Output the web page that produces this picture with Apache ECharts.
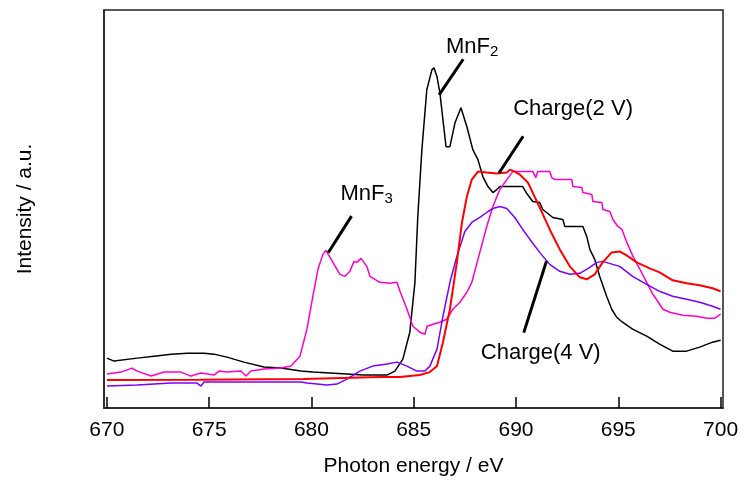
<!DOCTYPE html>
<html>
<head>
<meta charset="utf-8">
<script src="https://cdn.jsdelivr.net/npm/echarts@6/dist/echarts.min.js"></script>
<style>
  html, body { margin: 0; padding: 0; background: #fff; }
  #chart { width: 742px; height: 482px; }
</style>
</head>
<body>
<div id="chart"></div>
<script>
  // photon energy (eV) / intensity (a.u.)
  var mnf2E = [670.0, 670.35, 671.48, 672.31, 673.14, 673.92, 674.75, 675.24, 675.87, 676.7, 677.68, 678.51, 679.49, 680.07, 681.73, 682.52, 683.69, 684.08, 684.47, 684.81, 685.06, 685.2, 685.4, 685.64, 685.89, 685.99, 686.14, 686.28, 686.58, 686.77, 687.02, 687.31, 687.6, 687.89, 688.14, 688.38, 688.63, 688.87, 689.06, 689.21, 690.33, 690.53, 690.82, 691.16, 691.31, 691.8, 692.29, 692.39, 693.27, 693.46, 693.61, 693.85, 694.09, 694.43, 694.68, 694.92, 695.21, 695.7, 696.39, 697.02, 697.66, 698.34, 698.98, 699.61, 700.0]
  var mnf2I = [12.5, 11.75, 12.5, 13, 13.5, 13.75, 13.75, 13.5, 12.75, 11.5, 10.25, 10, 9.25, 9, 8.5, 8.25, 8.25, 9.25, 12.25, 19, 31.5, 48, 64.75, 79.75, 84.75, 85.25, 83, 79, 65.5, 65.5, 71.5, 75.25, 70.5, 64.75, 62.25, 58, 55.5, 54, 54.75, 55.5, 55.5, 53.75, 51.75, 51.5, 49.75, 47.75, 47.25, 45.5, 45.5, 43, 39.75, 37.25, 33, 28, 24.75, 22.75, 21.5, 19.75, 18, 16, 14.25, 14.25, 15.25, 16.5, 17]

  var mnf3E = [670.01, 670.69, 671.23, 671.48, 672.16, 672.79, 673.62, 674.11, 674.6, 675.24, 675.48, 675.87, 676.56, 676.8, 677.04, 677.68, 678.51, 679.0, 679.44, 679.78, 680.07, 680.32, 680.56, 680.71, 681.05, 681.39, 681.64, 681.88, 682.08, 682.22, 682.42, 682.71, 682.86, 683.35, 683.84, 684.18, 684.33, 684.67, 684.96, 685.3, 685.55, 685.65, 685.94, 686.28, 686.62, 686.91, 687.26, 687.6, 687.84, 688.14, 688.57, 688.87, 689.21, 689.55, 689.84, 690.82, 690.97, 691.06, 691.65, 691.75, 691.9, 692.73, 692.78, 693.22, 693.27, 693.71, 693.76, 694.2, 694.25, 694.59, 694.74, 694.98, 695.18, 695.42, 695.72, 696.06, 696.39, 696.69, 696.93, 697.18, 697.52, 698.15, 698.84, 699.33, 699.72, 700.0]
  var mnf3I = [8.5, 9, 10, 9.25, 8, 9, 9, 8, 8.75, 8.25, 9.25, 9, 9.25, 8, 9.25, 9.75, 10, 10.5, 13, 19.75, 28, 34.75, 38.5, 39.5, 36.5, 33.5, 33, 34.25, 36.75, 36.5, 37.5, 35.5, 33, 31.5, 31.25, 31.5, 29.25, 24.75, 20.5, 19, 18.5, 20.5, 21, 21.5, 22.25, 24.75, 26.5, 29, 31.5, 37.25, 45.5, 50.5, 54.75, 57.25, 59.25, 59.25, 57.75, 59.25, 59.25, 57.75, 57.25, 57.25, 55.5, 55.25, 54, 53.5, 51.75, 51.5, 49.75, 49.25, 47.25, 45.5, 44.75, 41.5, 38, 34.75, 31.5, 28.5, 26.75, 24.75, 24, 23.25, 23, 22.5, 22.5, 23.5]

  var charge4E = [670.01, 671.48, 673.14, 674.41, 674.6, 674.75, 676.36, 678.02, 679.49, 679.78, 680.76, 681.25, 681.73, 682.37, 683.0, 683.69, 684.18, 684.67, 685.15, 685.55, 685.79, 686.14, 686.43, 686.77, 687.11, 687.5, 687.84, 688.23, 688.57, 688.87, 689.21, 689.55, 689.94, 690.33, 690.68, 691.16, 691.65, 692.14, 692.63, 693.12, 693.61, 693.95, 694.24, 694.73, 695.07, 695.7, 696.39, 697.02, 697.66, 698.34, 698.98, 699.61, 700.0]
  var charge4I = [5.5, 5.75, 6.25, 6.25, 5.5, 6.5, 6.5, 6.5, 6.5, 6.25, 5.75, 6, 7.25, 9.25, 10.5, 11, 11.5, 10.5, 9.25, 9.25, 10.5, 14.75, 23, 31.5, 38, 44.25, 46.5, 47.75, 49, 50, 50.5, 50, 47.75, 44.75, 42.25, 39, 36, 34.25, 33.5, 33.75, 35.25, 36.5, 36.75, 36, 35.5, 33, 31, 29.25, 28, 27.25, 26.5, 25.5, 24.75]

  var charge2E = [670.0, 674.55, 679.63, 683.35, 684.33, 685.3, 685.79, 686.14, 686.43, 686.77, 687.11, 687.36, 687.6, 687.84, 688.14, 688.57, 689.06, 689.55, 689.7, 689.94, 690.19, 690.58, 690.68, 691.16, 691.65, 692.14, 692.63, 693.12, 693.46, 693.85, 694.24, 694.68, 695.07, 695.41, 695.9, 696.54, 697.02, 697.66, 698.34, 698.98, 699.61, 700.0]
  var charge2I = [7, 7.1, 7.25, 7.75, 7.75, 8.25, 9, 10.5, 16.5, 24.75, 36.5, 46.5, 53, 57.25, 59.25, 59, 58.75, 59, 59.75, 59.25, 58.5, 56.5, 55.5, 50.25, 44.75, 39.75, 35.5, 32.75, 32.25, 33.5, 36.5, 39, 39.25, 38.25, 36.5, 35, 34, 32, 31.25, 30.75, 30, 29.25]

  var xTicks = [670, 675, 680, 685, 690, 695, 700]

  // annotation texts and their anchors (data coords)
  var noteText = ['MnF{s|2}', 'Charge(2 V)', 'MnF{s|3}', 'Charge(4 V)']
  var noteAt = [[687.86, 90.5], [692.79, 75], [682.7, 53.6], [691.21, 13.9]]
  var leaderFrom = [[687.42, 87.4], [690.35, 68.1], [681.96, 48.1], [690.38, 18.9]]
  var leaderTo = [[686.24, 78.5], [689.17, 58.9], [680.82, 38.9], [691.49, 36.8]]

  var pairs = function (xs, ys) {
    var ret = []
    for (var i = 0; i < xs.length; i++) ret.push([xs[i], ys[i]])
    return ret
  }

  var font = 'Liberation Sans, Arial, sans-serif'
  var myChart = echarts.init(document.getElementById('chart'), null, { renderer: 'canvas' })

  var lineSeries = function (name, xs, ys, color, width) {
    return {
      name: name,
      type: 'line',
      symbol: 'none',
      animation: false,
      lineStyle: { color: color, width: width },
      data: pairs(xs, ys)
    }
  }

  var leaders = []
  var labels = []
  for (var i = 0; i < noteText.length; i++) {
    leaders.push([{ coord: leaderFrom[i] }, { coord: leaderTo[i] }])
    labels.push({ coord: noteAt[i], value: 0, label: { formatter: noteText[i] } })
  }

  var option = {
    animation: false,
    grid: {
      left: 104, right: 19, top: 10, bottom: 73,
      show: true, borderColor: '#222', borderWidth: 1.5
    },
    xAxis: {
      type: 'value',
      min: 669.86,
      max: 700.12,
      name: 'Photon energy / eV',
      nameLocation: 'middle',
      nameGap: 48,
      nameTextStyle: { fontFamily: font, fontSize: 21, color: '#000' },
      axisLine: { show: true, lineStyle: { color: '#222', width: 1.5 } },
      axisTick: { show: true, inside: true, length: 11, customValues: xTicks, lineStyle: { color: '#000', width: 1.5 } },
      axisLabel: { customValues: xTicks, margin: 12, fontFamily: font, fontSize: 21, color: '#000' },
      splitLine: { show: false }
    },
    yAxis: {
      type: 'value',
      min: 0,
      max: 99.75,
      name: 'Intensity / a.u.',
      nameLocation: 'middle',
      nameGap: 68,
      nameTextStyle: { fontFamily: font, fontSize: 21, color: '#000' },
      axisLine: { show: true, lineStyle: { color: '#222', width: 1.5 } },
      axisTick: { show: false },
      axisLabel: { show: false },
      splitLine: { show: false }
    },
    series: [
      Object.assign(lineSeries('MnF2', mnf2E, mnf2I, '#000000', 1.5), {
        markLine: {
          silent: true,
          symbol: 'none',
          label: { show: false },
          lineStyle: { color: '#000', width: 3, type: 'solid' },
          data: leaders
        },
        markPoint: {
          silent: true,
          symbol: 'circle',
          symbolSize: 0,
          label: {
            show: true,
            position: 'inside',
            color: '#000',
            fontFamily: font,
            fontSize: 22,
            rich: {
              s: { fontFamily: font, fontSize: 15, verticalAlign: 'bottom', padding: [10, 0, 0, 0] }
            }
          },
          data: labels
        }
      }),
      lineSeries('MnF3', mnf3E, mnf3I, '#ff00cc', 1.5),
      lineSeries('Charge(4 V)', charge4E, charge4I, '#7a00ff', 1.5),
      lineSeries('Charge(2 V)', charge2E, charge2I, '#ff0000', 2)
    ]
  }

  myChart.setOption(option)
</script>
</body>
</html>
